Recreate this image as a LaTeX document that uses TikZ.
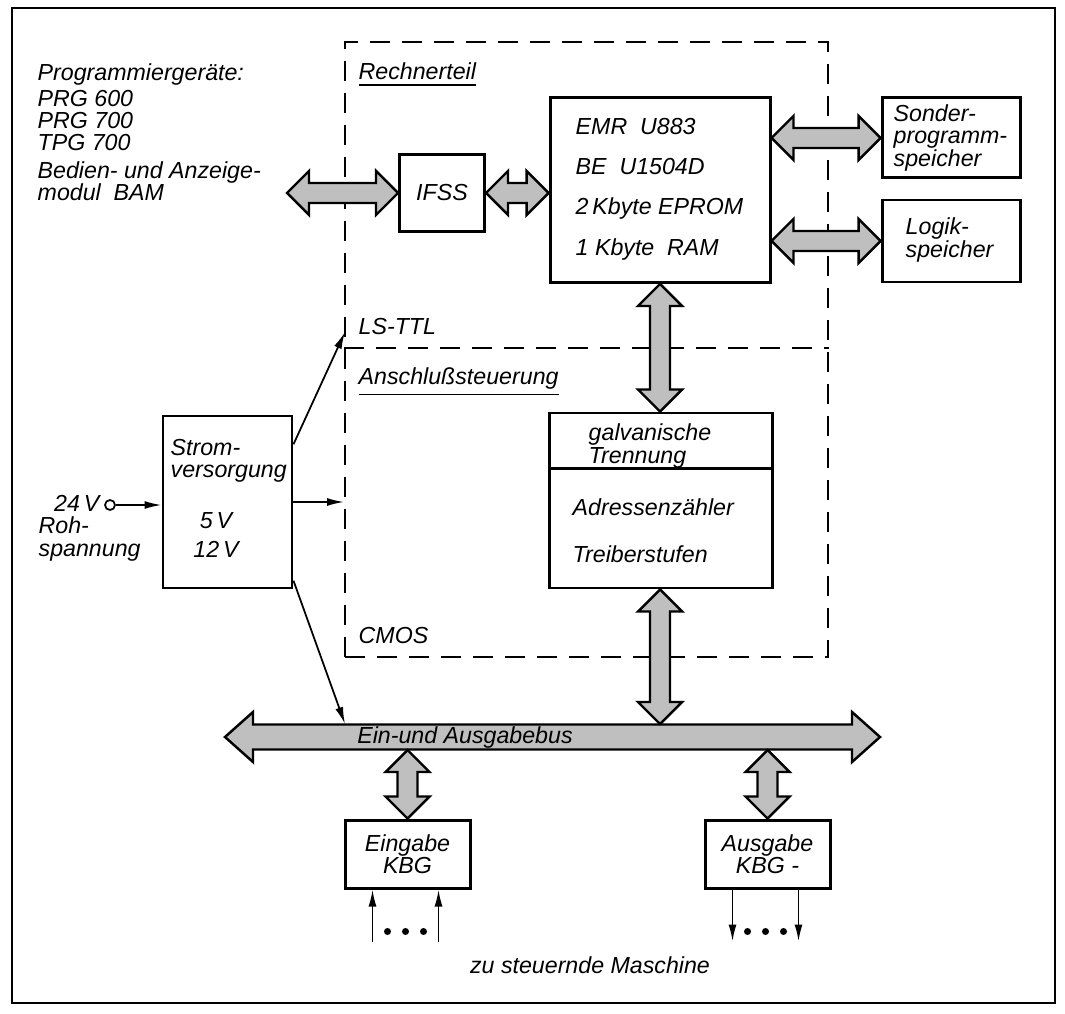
\documentclass[tikz,border=0pt]{standalone}
\usepackage{fontspec}
\setmainfont{Liberation Sans}
\usetikzlibrary{calc,arrows.meta,positioning}

\begin{document}
\begin{tikzpicture}
        [x=0.1mm, y=-0.1mm,
         every node/.style={font=\fontsize{6.6}{6.3}\selectfont\itshape, inner sep=0pt},
         boxstyle/.style={draw=black, line width=0.85pt},
         txtstyle/.style={anchor=west, align=left},
         zonestyle/.style={draw=black, line width=0.55pt, dash pattern=on 2mm off 1.2mm},
         wirestyle/.style={line width=0.5pt, -{Latex[length=1.7mm,width=0.8mm]}},
         fatstyle/.style n args={3}{draw=black, line width=0.7pt, fill=gray!50,
            to path={(\tikztostart)
              -- ($(\tikztostart)!#1!(\tikztotarget)!#2!90:(\tikztotarget)$)
              -- ($(\tikztostart)!#1!(\tikztotarget)!#3!90:(\tikztotarget)$)
              -- ($(\tikztotarget)!#1!(\tikztostart)!#3!-90:(\tikztostart)$)
              -- ($(\tikztotarget)!#1!(\tikztostart)!#2!-90:(\tikztostart)$)
              -- (\tikztotarget)
              -- ($(\tikztotarget)!#1!(\tikztostart)!#2!90:(\tikztostart)$)
              -- ($(\tikztotarget)!#1!(\tikztostart)!#3!90:(\tikztostart)$)
              -- ($(\tikztostart)!#1!(\tikztotarget)!#3!-90:(\tikztotarget)$)
              -- ($(\tikztostart)!#1!(\tikztotarget)!#2!-90:(\tikztotarget)$)
              -- cycle}},
         linkstyle/.style={fatstyle={2.2mm}{2.2mm}{1mm}},
         busstyle/.style={fatstyle={2.8mm}{2.5mm}{1.25mm}}]
        \useasboundingbox (0,0) rectangle (1065,1013);
        \draw[line width=0.7pt] (12,8) rectangle (1055,1003);

        % dashed zone
        \node[zonestyle, minimum width=48.3mm, minimum height=61.5mm] (zone) at (586.5,349.5) {};
        \coordinate (cut) at (0,348);
        \draw[zonestyle] (zone.west |- cut) -- (zone.east |- cut);
        \node[anchor=base west] (rechner) at (358,80) {\underline{Rechnerteil}};
        \node[anchor=base west] (lsttl) at (358,335) {LS-TTL};
        \node[anchor=base west] (anschluss) at (358,385) {\underline{Anschlußsteuerung}};
        \node[anchor=base west] (cmos) at (358,643) {CMOS};

        \node[txtstyle] (prgtext) at (37,132) {Programmiergeräte:\\[1.1pt]PRG 600\\PRG 700\\TPG 700\\[1.7pt]Bedien- und Anzeige-\\modul\ \ BAM};

        \node[boxstyle, minimum width=8.5mm, minimum height=7.7mm] (ifss) at (442,193) {IFSS};
        \node[boxstyle, minimum width=22mm, minimum height=18.5mm] (emr) at (660,190) {};
        \node[txtstyle] (emrtext) at (575,189) {EMR\ \ U883\\[5.2pt]BE\ \ U1504D\\[5.2pt]2\,Kbyte EPROM\\[5.2pt]1 Kbyte\ \ RAM};
        \node[boxstyle, minimum width=13.8mm, minimum height=8mm] (sonder) at (951,138) {};
        \node[txtstyle] (sondertext) at (893,138) {Sonder-\\programm-\\speicher};
        \node[boxstyle, minimum width=13.8mm, minimum height=8.2mm] (logik) at (951,241) {};
        \node[txtstyle] (logiktext) at (905,240) {Logik-\\speicher};

        \node[boxstyle, minimum width=22.3mm, minimum height=17.5mm] (galv) at (661,500.5) {};
        \draw[boxstyle] ($(galv.north west)+(0,57)$) -- ($(galv.north east)+(0,57)$);
        \node[txtstyle] (galvtext) at (588,446) {galvanische\\Trennung};
        \node[txtstyle] (treiber) at (572,531) {Adressenzähler\\[7pt]Treiberstufen};

        \node[boxstyle, minimum width=12.9mm, minimum height=17.2mm] (strom) at (227.5,502) {};
        \node[txtstyle] (stromtext) at (170,461) {Strom-\\versorgung};
        \node[align=center] (volt) at (216,535) {5\,V\\[2.2pt]12\,V};
        \node[anchor=east] (vtext) at (100,503) {24\,V};
        \node[draw, circle, line width=0.5pt, minimum size=1mm] (vin) at (110,505) {};
        \node[txtstyle] (roh) at (38,539) {Roh-\\spannung};

        \node[boxstyle, minimum width=12.5mm, minimum height=6.8mm, align=center] (ein) at (407.5,854) {Eingabe\\KBG};
        \node[boxstyle, minimum width=12.5mm, minimum height=6.8mm, align=center] (aus) at (767.5,854) {Ausgabe\\KBG -};
        \node (maschine) at (590,965) {zu steuernde Maschine};

        % bus
        \coordinate (busW) at (225,737);
        \coordinate (busE) at (880,737);
        \coordinate (busN) at (0,724);
        \coordinate (busS) at (0,750);
        \draw[busstyle] (busW) to (busE);
        \node (buslabel) at (465,737) {Ein-und Ausgabebus};

        % wide links
        \coordinate (prg) at (287,193);
        \coordinate (emrW) at (ifss.east -| emr.west);
        \coordinate (emrS) at (emr.east |- sonder.west);
        \coordinate (emrL) at (emr.east |- logik.west);
        \coordinate (galvN) at (emr.south |- galv.north);
        \coordinate (galvS) at (emr.south |- galv.south);
        \coordinate (busG) at (emr.south |- busN);
        \coordinate (busEin) at (ein.north |- busS);
        \coordinate (busAus) at (aus.north |- busS);
        \draw[linkstyle] (prg) to (ifss.west);
        \draw[linkstyle] (ifss.east) to (emrW);
        \draw[linkstyle] (emrS) to (sonder.west);
        \draw[linkstyle] (emrL) to (logik.west);
        \draw[linkstyle] (emr.south) to (galvN);
        \draw[linkstyle] (galvS) to (busG);
        \draw[linkstyle] (busEin) to (ein.north);
        \draw[linkstyle] (busAus) to (aus.north);

        % supply wires
        \coordinate (ttl) at (345,332);
        \coordinate (bustap) at (345,724);
        \draw[wirestyle] (vin.east) -- (vin -| strom.west);
        \draw[wirestyle] ($(strom.north east)!0.17!(strom.south east)$) -- (ttl);
        \draw[wirestyle] (strom.east) -- (strom.east -| zone.west);
        \draw[wirestyle] ($(strom.north east)!0.95!(strom.south east)$) -- (bustap);

        % machine side
        \foreach \dx in {29,95} {
            \draw[wirestyle] ($(ein.south west)+(\dx,52)$) -- ($(ein.south west)+(\dx,0)$);
            \draw[wirestyle] ($(aus.south west)+(\dx,0)$) -- ($(aus.south west)+(\dx,52)$);
        }
        \foreach \dx in {44,62,80} {
            \fill ($(ein.south west)+(\dx,42)$) circle (0.35mm);
            \fill ($(aus.south west)+(\dx,42)$) circle (0.35mm);
        }
    \end{tikzpicture}
\end{document}
